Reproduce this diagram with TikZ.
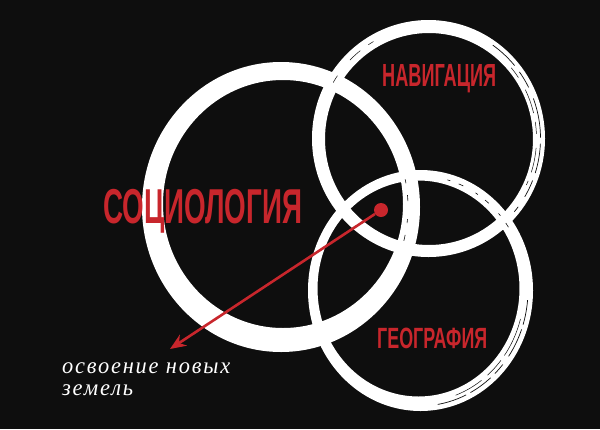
\documentclass[tikz,border=0pt]{standalone}
\usepackage{fontspec}
\setmainfont{Liberation Serif}
\newfontfamily\labfont{Liberation Sans}
\newfontfamily\notefont[LetterSpace=8]{Liberation Serif}
\usetikzlibrary{arrows.meta}
\definecolor{bg}{RGB}{14,14,14}
\definecolor{myred}{RGB}{200,38,44}
\begin{document}
\begin{tikzpicture}[x=1pt,y=-1pt,
  ring/.style={fill=white, even odd rule},
  streak/.style={draw=bg, line width=0.7pt},
  lab/.style={inner sep=0pt, anchor=base west, text=myred},
  note/.style={inner sep=0pt, anchor=base west, text=white}]
\fill[bg] (0,0) rectangle (600,429);
\useasboundingbox (0,0) rectangle (600,429);

% big ring (sociology)
\fill[ring] (281,207) ellipse [x radius=139pt, y radius=145pt]
            (283,204) ellipse [x radius=120pt, y radius=124pt];
% navigation ring
\fill[ring] (428.5,138.5) ellipse [x radius=116.5pt, y radius=118.5pt]
            (429,139) ellipse [x radius=104pt, y radius=106pt];
% geography ring
\fill[ring] (420.5,290.5) ellipse [x radius=112.5pt, y radius=120.5pt]
            (418.5,288.5) ellipse [x radius=101pt, y radius=108pt];

% brush streaks
\draw[streak, dash pattern=on 30pt off 8pt on 18pt off 12pt on 40pt off 6pt]
  (428.5,138.5) ++(55:112pt and 114pt) arc[start angle=55, end angle=-40, x radius=112pt, y radius=114pt];
\draw[streak, line width=0.5pt, dash pattern=on 12pt off 14pt on 25pt off 9pt]
  (428.5,138.5) ++(40:108pt and 110pt) arc[start angle=40, end angle=-25, x radius=108pt, y radius=110pt];
\draw[streak, line width=0.5pt, dash pattern=on 8pt off 20pt on 14pt off 10pt]
  (428.5,138.5) ++(150:110pt and 112pt) arc[start angle=150, end angle=120, x radius=110pt, y radius=112pt];
\draw[streak, dash pattern=on 25pt off 5pt on 30pt off 10pt on 12pt off 6pt]
  (420,290) ++(-5:108pt and 116pt) arc[start angle=-5, end angle=-85, x radius=108pt, y radius=116pt];
\draw[streak, line width=0.5pt, dash pattern=on 40pt off 6pt on 20pt off 8pt]
  (420,290) ++(-15:104pt and 112pt) arc[start angle=-15, end angle=-70, x radius=104pt, y radius=112pt];
\draw[streak, line width=0.6pt, dash pattern=on 3pt off 9pt on 5pt off 14pt]
  (420,290) ++(75:106pt and 114pt) arc[start angle=75, end angle=30, x radius=106pt, y radius=114pt];
\draw[streak, line width=0.6pt, dash pattern=on 4pt off 12pt on 6pt off 18pt]
  (281,207) ++(12:127pt and 133pt) arc[start angle=12, end angle=-22, x radius=127pt, y radius=133pt];

% labels
\node[lab] (soc) at (103,223) {\resizebox{199pt}{\height}{\labfont\bfseries\fontsize{49}{49}\selectfont СОЦИОЛОГИЯ}};
\node[lab] (nav) at (382,86) {\resizebox{114pt}{\height}{\labfont\bfseries\fontsize{32}{32}\selectfont НАВИГАЦИЯ}};
\node[lab] (geo) at (377,348) {\resizebox{110pt}{\height}{\labfont\bfseries\fontsize{29.3}{29.3}\selectfont ГЕОГРАФИЯ}};

\node[note] (note1) at (62,373) {\resizebox{168pt}{\height}{\notefont\itshape\fontsize{23}{23}\selectfont освоение новых}};
\node[note] (note2) at (62,395) {\resizebox{71pt}{\height}{\notefont\itshape\fontsize{23}{23}\selectfont земель}};

% pointer
\node[circle, fill=myred, minimum size=14pt, inner sep=0pt] (dot) at (381,210) {};
\coordinate (tip) at (170,349);
\draw[myred, line width=2.6pt, -{Stealth[length=16pt,width=13pt]}] (dot) -- (tip);
\end{tikzpicture}
\end{document}
